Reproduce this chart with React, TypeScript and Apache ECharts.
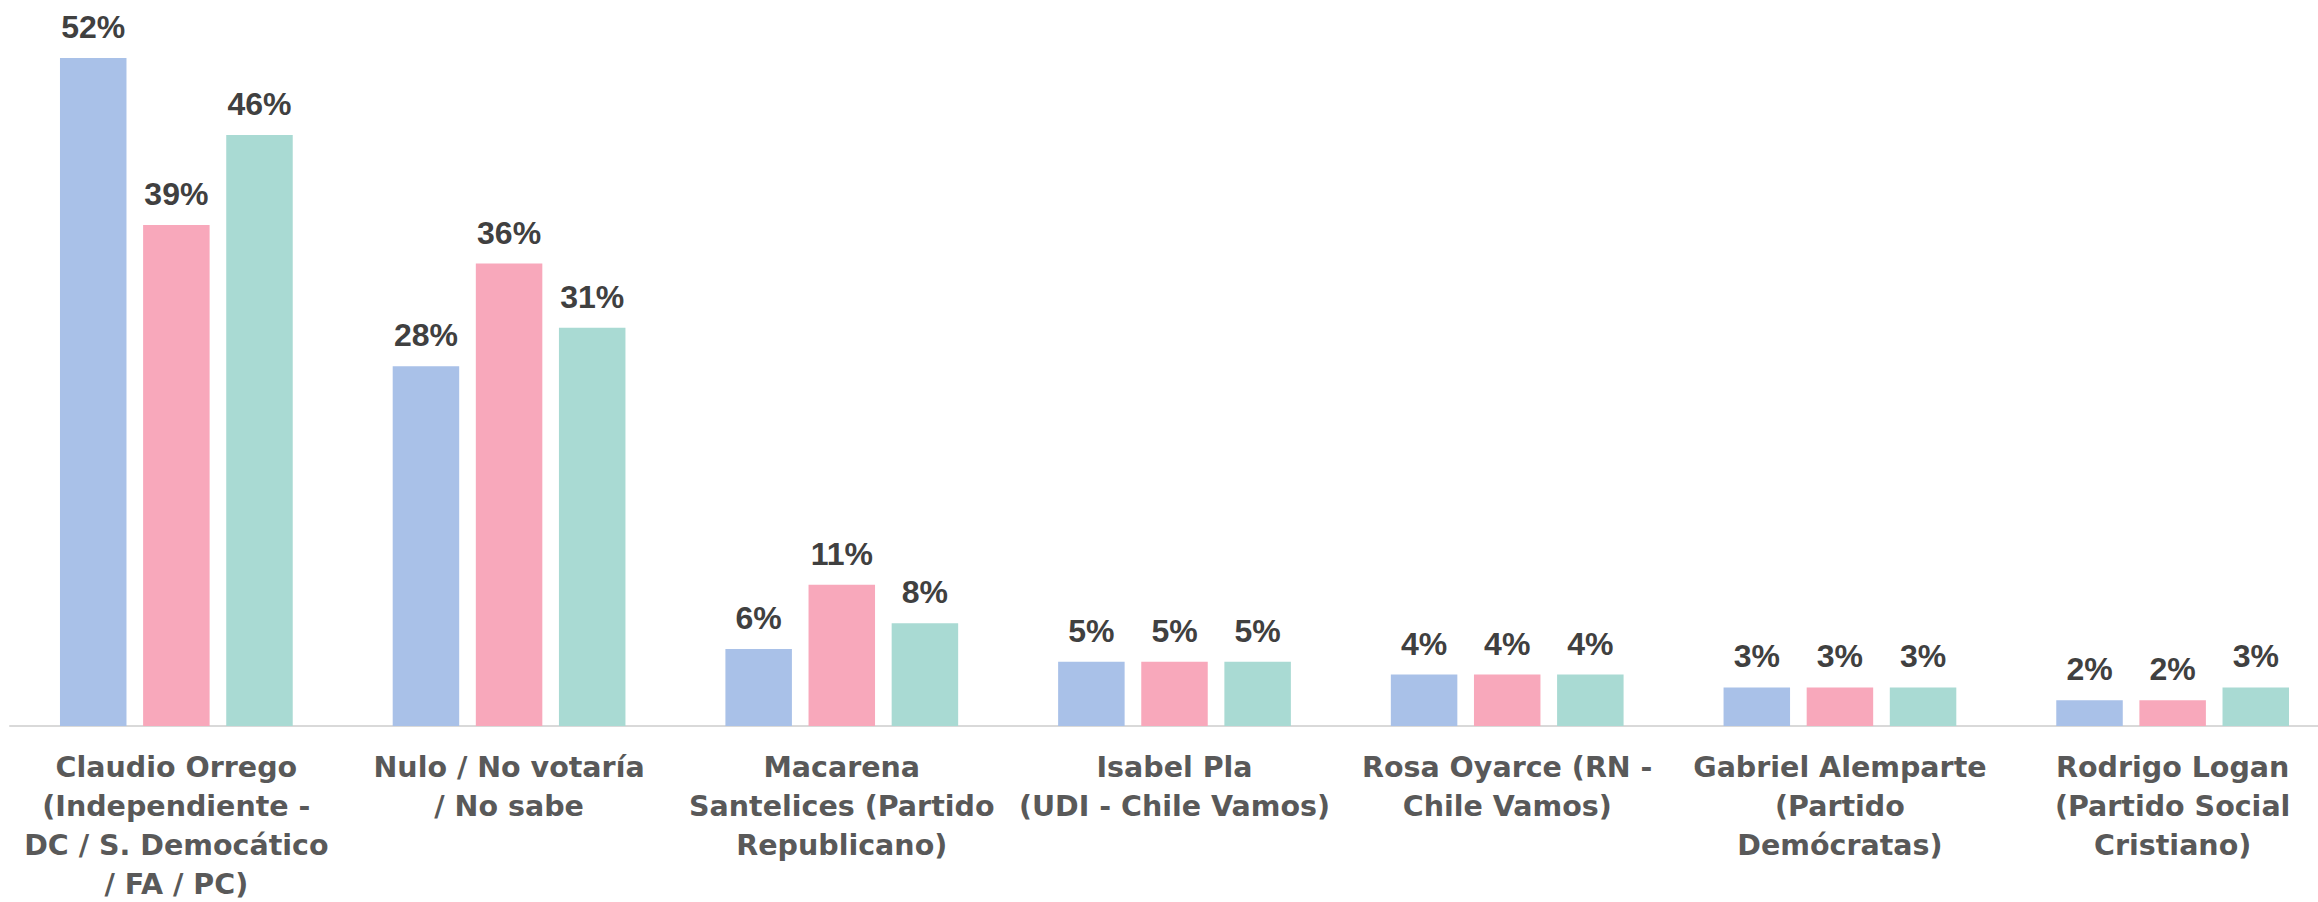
import React, { useEffect, useRef } from "react";
import * as echarts from "echarts";

const categories = [
  "Claudio Orrego\n(Independiente -\nDC / S. Democático\n/ FA / PC)",
  "Nulo / No votaría\n/ No sabe",
  "Macarena\nSantelices (Partido\nRepublicano)",
  "Isabel Pla\n(UDI - Chile Vamos)",
  "Rosa Oyarce (RN -\nChile Vamos)",
  "Gabriel Alemparte\n(Partido\nDemócratas)",
  "Rodrigo Logan\n(Partido Social\nCristiano)",
];

const seriesA = [52, 28, 6, 5, 4, 3, 2];
const seriesB = [39, 36, 11, 5, 4, 3, 2];
const seriesC = [46, 31, 8, 5, 4, 3, 3];

const colors = ["#A9C1E8", "#F8A8BB", "#A9DAD3"];
const VFONT = "'Liberation Sans', Arial, sans-serif";
const XFONT = "'DejaVu Sans', sans-serif";

export default function App() {
  const ref = useRef<HTMLDivElement>(null);
  useEffect(() => {
    if (!ref.current) return;
    const chart = echarts.init(ref.current, null, { renderer: "svg" });
    const mk = (name: string, data: number[], color: string) => ({
      name,
      type: "bar",
      data,
      barWidth: 66.5,
      barGap: "25%",
      itemStyle: { color },
      label: {
        show: true,
        position: "top",
        distance: 15,
        formatter: "{c}%",
        color: "#404040",
        fontFamily: VFONT,
        fontWeight: "bold",
        fontSize: 32,
      },
    });
    chart.setOption({
      animation: false,
      backgroundColor: "#ffffff",
      grid: {
        left: 10,
        right: 0,
        top: 58,
        bottom: 176,
        containLabel: false,
        outerBoundsMode: "none",
      },
      xAxis: {
        type: "category",
        data: categories,
        axisLine: { show: true, lineStyle: { color: "#D9D9D9", width: 2 } },
        axisTick: { show: false },
        axisLabel: {
          interval: 0,
          margin: 22,
          color: "#595959",
          fontFamily: XFONT,
          fontWeight: "bold",
          fontSize: 28.5,
          lineHeight: 39,
          align: "center",
        },
      },
      yAxis: {
        type: "value",
        min: 0,
        max: 52,
        show: false,
        splitLine: { show: false },
      },
      series: [
        mk("A", seriesA, colors[0]),
        mk("B", seriesB, colors[1]),
        mk("C", seriesC, colors[2]),
      ],
    });
    return () => chart.dispose();
  }, []);
  return (
    <div style={{ position: "fixed", left: 0, top: 0, width: 2318, height: 902, overflow: "hidden", background: "#fff" }}>
      <div ref={ref} style={{ position: "absolute", left: 0, top: 0, width: 2339, height: 902 }} />
    </div>
  );
}
